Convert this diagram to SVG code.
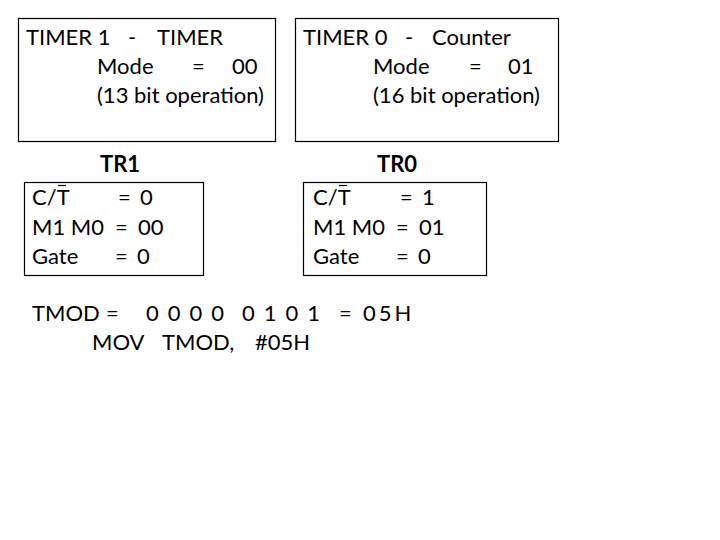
<svg xmlns="http://www.w3.org/2000/svg" width="720" height="540" viewBox="0 0 720 540">
<style>
text{font-family:Lato,"Liberation Sans",sans-serif;font-size:22px;fill:#000}
.b{font-weight:bold}
rect{fill:none;stroke:#000;stroke-width:1.2}
line{stroke:#000;stroke-width:1.2}
</style>
<rect x="0" y="0" width="720" height="540" style="fill:#fff;stroke:none"/>
<g id="timer1">
<rect x="18.5" y="18.5" width="257" height="123"/>
<text x="26" y="45">TIMER 1</text><text x="128" y="45">-</text><text x="157" y="45">TIMER</text>
<text x="97" y="74">Mode</text><text x="192" y="74">=</text><text x="232" y="74">00</text>
<text x="97" y="103">(13 bit operation)</text>
</g>
<g id="timer0">
<rect x="295.5" y="18.5" width="263" height="123"/>
<text x="303" y="45">TIMER 0</text><text x="405" y="45">-</text><text x="432" y="45">Counter</text>
<text x="373" y="74">Mode</text><text x="469" y="74">=</text><text x="508" y="74">01</text>
<text x="373" y="103">(16 bit operation)</text>
</g>
<g id="tr1">
<text class="b" x="100" y="172">TR1</text>
<rect x="24.5" y="182.5" width="179" height="93"/>
<text x="32" y="205">C/T</text><line x1="58" y1="185.5" x2="66" y2="185.5"/><text x="118" y="205">=</text><text x="140" y="205">0</text>
<text x="32" y="235">M1 M0</text><text x="115" y="235">=</text><text x="138" y="235">00</text>
<text x="32" y="264">Gate</text><text x="115" y="264">=</text><text x="137" y="264">0</text>
</g>
<g id="tr0">
<text class="b" x="377" y="172">TR0</text>
<rect x="303.5" y="182.5" width="183" height="93"/>
<text x="313" y="205">C/T</text><line x1="339" y1="185.5" x2="347" y2="185.5"/><text x="400" y="205">=</text><text x="422" y="205">1</text>
<text x="313" y="235">M1 M0</text><text x="396" y="235">=</text><text x="419" y="235">01</text>
<text x="313" y="264">Gate</text><text x="396" y="264">=</text><text x="418" y="264">0</text>
</g>
<g id="tmod">
<text x="32" y="321">TMOD</text><text x="106" y="321">=</text>
<text x="146" y="321" letter-spacing="9">0000</text>
<text x="242" y="321" letter-spacing="9">0101</text>
<text x="339" y="321">=</text>
<text x="363" y="321" letter-spacing="3">05H</text>
<text x="92" y="350">MOV</text><text x="162" y="350">TMOD,</text><text x="255" y="350">#05H</text>
</g>
<g id="connectors"/>
</svg>
